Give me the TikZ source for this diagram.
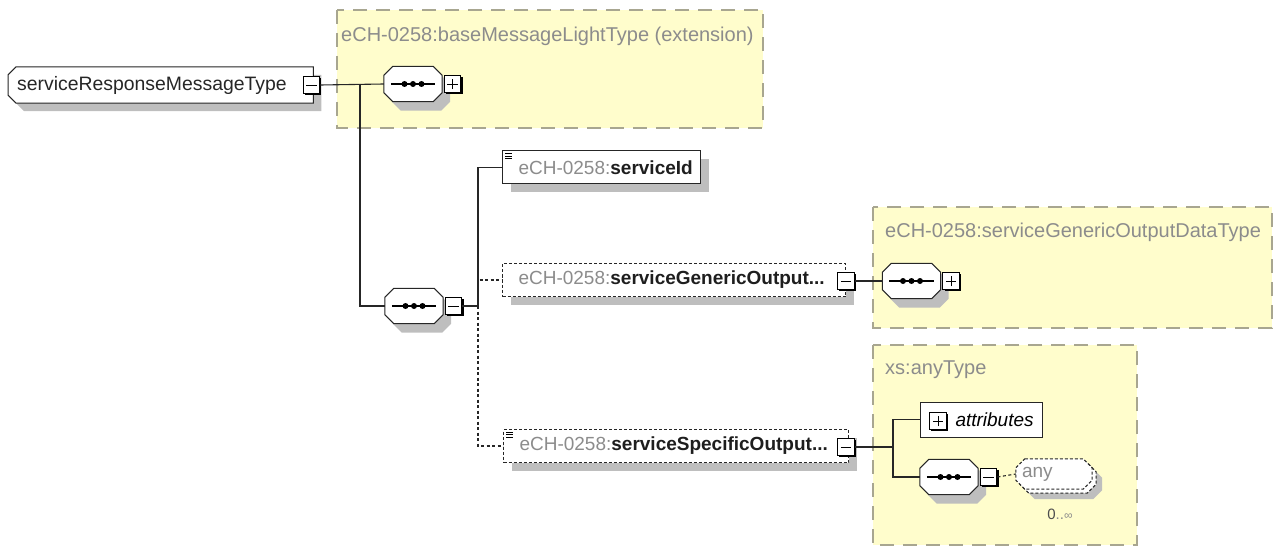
\documentclass[tikz,border=0pt]{standalone}
\usepackage{fontspec}
\setmainfont{Liberation Sans}
\usetikzlibrary{shadows}
\definecolor{yel}{HTML}{FFFDCC}
\definecolor{ydash}{HTML}{A8A690}
\definecolor{lbl}{HTML}{8C8C8C}
\definecolor{shdc}{HTML}{BEBEBE}
\definecolor{nm}{HTML}{1E1E1E}
\newcommand{\ech}[1]{\mbox{\textcolor{lbl}{eCH-0258:}\textbf{#1}}}
% octagon around node #1, chamfer #2, offset (#3,#4), style #5
\newcommand{\oct}[5]{\path[#5] ([shift={(#2+#3,#4)}]#1.north west) -- ([shift={(-#2+#3,#4)}]#1.north east) -- ([shift={(#3,#2+#4)}]#1.north east) -- ([shift={(#3,-#2+#4)}]#1.south east) -- ([shift={(-#2+#3,#4)}]#1.south east) -- ([shift={(#2+#3,#4)}]#1.south west) -- ([shift={(#3,-#2+#4)}]#1.south west) -- ([shift={(#3,#2+#4)}]#1.north west) -- cycle;}
% left-chamfered shape
\newcommand{\lch}[5]{\path[#5] ([shift={(#2+#3,#4)}]#1.north west) -- ([shift={(#3,#4)}]#1.north east) -- ([shift={(#3,#4)}]#1.south east) -- ([shift={(#2+#3,#4)}]#1.south west) -- ([shift={(#3,-#2+#4)}]#1.south west) -- ([shift={(#3,#2+#4)}]#1.north west) -- cycle;}
\pgfdeclarelayer{back}
\pgfdeclarelayer{mid}
\pgfsetlayers{back,mid,main}
\begin{document}
\begin{tikzpicture}[x=1pt,y=-1pt, font=\fontsize{19}{22}\selectfont,
 ybox/.style={draw=ydash, fill=yel, line width=1.4pt, dash pattern=on 14pt off 9pt},
 ylabel/.style={text=lbl, anchor=west, inner sep=0pt, font=\fontsize{20}{24}\selectfont},
 shd/.style={drop shadow={shadow xshift=8pt, shadow yshift=-8pt, fill=shdc, opacity=1}},
 elem/.style={draw=black!85, fill=white, line width=1pt, shd, minimum height=33pt, inner ysep=0pt, inner xsep=16pt, align=left, anchor=west, text=nm},
 opt/.style={elem, dash pattern=on 3pt off 2pt},
 pmbox/.style={draw=black, fill=white, line width=1pt, minimum size=16.5pt, inner sep=0pt, drop shadow={shadow xshift=1.6pt, shadow yshift=-1.6pt, fill=black, opacity=1}},
 minus/.style={pmbox, path picture={\draw[line width=0.9pt] ([xshift=3pt]path picture bounding box.west) -- ([xshift=-3pt]path picture bounding box.east);}},
 plus/.style={pmbox, path picture={\draw[line width=0.9pt] ([xshift=3pt]path picture bounding box.west) -- ([xshift=-3pt]path picture bounding box.east); \draw[line width=0.9pt] ([yshift=3pt]path picture bounding box.south) -- ([yshift=-3pt]path picture bounding box.north);}},
 seq/.style={draw=none, minimum width=58pt, minimum height=35pt, inner sep=0pt},
 oline/.style={draw=black!85, fill=white, line width=1pt},
 ofill/.style={fill=shdc},
 conn/.style={draw=black!85, line width=1.1pt},
 dconn/.style={conn, dash pattern=on 3pt off 2.5pt},
]
\useasboundingbox (0,0) rectangle (1274,548);

% containers
\begin{pgfonlayer}{back}
\draw[ybox] (337,10) rectangle (763,128);
\draw[ybox] (873,207) rectangle (1272,328);
\draw[ybox] (873,345) rectangle (1137,545);
\end{pgfonlayer}
\node[ylabel] (y1lbl) at (341,36) {eCH-0258:baseMessageLightType (extension)};
\node[ylabel] (y2lbl) at (885,232) {eCH-0258:serviceGenericOutputDataType};
\node[ylabel] (y3lbl) at (885,370) {xs:anyType};

% root
\node[draw=none, minimum width=305pt, minimum height=36pt, inner xsep=9pt, inner ysep=0pt,
  text width=287pt, align=left, anchor=west, text=black!85, font=\fontsize{19.4}{22}\selectfont] (root) at (8,85) {\mbox{serviceResponseMessageType}};
\begin{pgfonlayer}{mid}
\lch{root}{8}{8}{8}{ofill}
\lch{root}{8}{0}{0}{oline}
\end{pgfonlayer}
\node[minus] (rootpm) at (311.5,85) {};

% sequences
\node[seq] (seq1) at (413,84) {};
\node[seq] (seq2) at (414,306) {};
\node[seq] (seq3) at (911.5,281) {};
\node[seq] (seq4) at (949,477) {};
\begin{pgfonlayer}{mid}
\foreach \s in {seq1,seq2,seq3,seq4}{
  \oct{\s}{9}{8}{9}{ofill}
  \oct{\s}{9}{0}{0}{oline}
}
\end{pgfonlayer}
\foreach \s in {seq1,seq2,seq3,seq4}{
  \draw[line width=1.2pt] ([xshift=7pt]\s.west) -- ([xshift=-7pt]\s.east);
  \foreach \d in {-8.5,0,8.5} \fill ([xshift=\d pt]\s.center) circle (3pt);
}
\node[plus] (seq1pm) at ([xshift=10.5pt]seq1.east) {};
\node[minus] (seq2pm) at ([xshift=10.5pt]seq2.east) {};
\node[plus] (seq3pm) at ([xshift=10.5pt]seq3.east) {};
\node[minus] (seq4pm) at ([xshift=10.5pt]seq4.east) {};

% elements
\node[elem, minimum width=198pt, text width=166pt] (sid) at (502,167.5) {\ech{serviceId}};
\node[opt, minimum width=343pt, text width=311pt] (gen) at (502,280) {\ech{serviceGenericOutput...}};
\node[minus] (genpm) at (846,281) {};
\node[opt, minimum width=345pt, text width=313pt] (spec) at (503,446) {\ech{serviceSpecificOutput...}};
\node[minus] (specpm) at (846,447) {};

\foreach \n in {sid,spec}{
  \foreach \dy in {3,5.5,8}
    \draw[line width=0.7pt] ([shift={(3,\dy)}]\n.north west) -- +(7,0);
}

% attributes
\node[draw=black!85, fill=white, line width=1pt, minimum width=122pt, minimum height=35pt, inner xsep=0pt, inner ysep=0pt,
  anchor=west, text width=122pt, align=left] (attr) at (920,419.5) {\hspace*{35pt}\textit{attributes}};
\node[plus] (attrpm) at (938,421) {};

% any
\node[draw=none, minimum width=76pt, minimum height=30pt, inner xsep=6pt, inner ysep=0pt, text width=64pt, align=left, text=lbl] (any) at (1054,474) {any};
\begin{pgfonlayer}{mid}
\oct{any}{9}{10}{10}{ofill}
\oct{any}{9}{4}{4}{oline, dash pattern=on 3pt off 2pt}
\oct{any}{9}{0}{0}{oline, dash pattern=on 3pt off 2pt}
\end{pgfonlayer}
\node[font=\fontsize{15}{18}\selectfont, text=black!70] (occ) at (1060,514) {0\textcolor{lbl}{..\fontsize{12}{14}\selectfont∞}};

% connectors
\coordinate (j1) at (360,84);
\coordinate (j2) at (478,306);
\coordinate (j3) at (893,447);
\draw[conn] (rootpm.east) -- (seq1.west);
\draw[conn] (j1) |- (seq2.west);
\draw[dconn] (j2) |- (gen.west);
\draw[dconn] (j2) |- (spec.west);
\draw[conn] (seq2pm.east) -- (j2) |- (sid.west);
\draw[conn] (genpm.east) -- (seq3.west);
\draw[conn] (specpm.east) -- (j3) |- (attr.west);
\draw[conn] (j3) |- (seq4.west);
\draw[dconn] (seq4pm.east) -- (any.west);
\end{tikzpicture}
\end{document}
